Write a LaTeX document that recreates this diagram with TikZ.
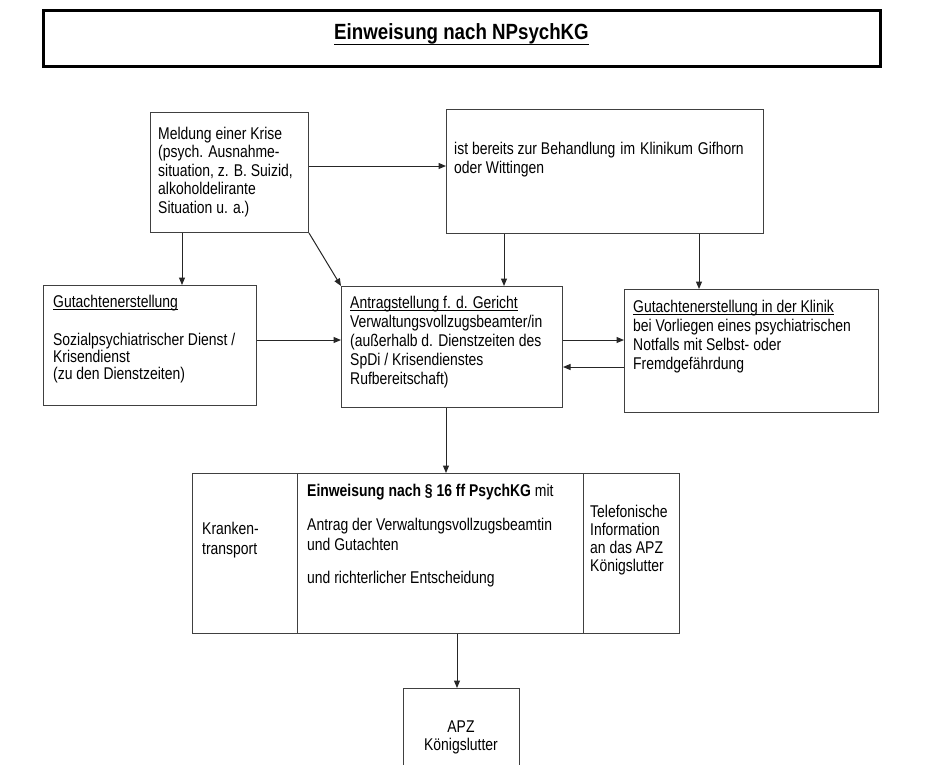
\documentclass[tikz,border=0pt]{standalone}
\usepackage{fontspec}
\setmainfont[FakeStretch=0.82]{Liberation Sans}
\newfontfamily\titlefont[FakeStretch=0.85]{Liberation Sans}
\usetikzlibrary{arrows.meta}
\newcommand\myul[1]{\setbox0\hbox{#1}\rlap{\vrule height -1.6pt depth 2.7pt width \wd0}\box0}
\newcommand\titleul[1]{\setbox0\hbox{#1}\rlap{\vrule height -4.5pt depth 6.2pt width \wd0}\box0}
\newcommand\wsp{\ \kern1.2pt}
\tikzset{
  box/.style={draw=black!75, line width=1pt, rectangle, inner sep=0pt, anchor=north west},
  txt/.style={inner sep=0pt, anchor=base west, font=\fontsize{17}{19}\selectfont},
  arr/.style={draw=black!85, line width=1pt, -{Triangle[length=7.5pt,width=6pt]}},
}
\begin{document}
\begin{tikzpicture}[x=1pt,y=-1pt]
\useasboundingbox (0,0) rectangle (947,764);
% title
\node[draw=black, line width=3pt, rectangle, inner sep=0pt, minimum width=837pt, minimum height=56pt] (title) at (461.5,38) {};
\node[inner sep=0pt, anchor=base, font=\titlefont\bfseries\fontsize{22}{22}\selectfont] (titleT) at (461.5,39) {\titleul{Einweisung nach NPsychKG}};
% boxes
\node[box, minimum width=158pt, minimum height=120pt] (meld) at (150,112) {};
\node[txt] (meldT) at (158,139) {\vtop{\baselineskip=18.5pt\hbox{Meldung einer Krise}\hbox{(psych. Ausnahme-}\hbox{situation, z. B. Suizid,}\hbox{alkoholdelirante}\hbox{Situation u. a.)}}};
\node[box, minimum width=317pt, minimum height=124pt] (klin) at (446,109) {};
\node[txt] (klinT) at (454,154) {\vtop{\baselineskip=19pt\hbox{ist bereits zur Behandlung\wsp im\wsp Klinikum\wsp Gifhorn}\hbox{oder Wittingen}}};
\node[box, minimum width=213pt, minimum height=120pt] (gut) at (43,285) {};
\node[txt] (gutT) at (53,307) {\vtop{\baselineskip=17.3pt\hbox{\myul{Gutachtenerstellung}}\vskip 20.7pt\hbox{Sozialpsychiatrischer Dienst /}\hbox{Krisendienst}\hbox{(zu den Dienstzeiten)}}};
\node[box, minimum width=221pt, minimum height=121pt] (antrag) at (341,286) {};
\node[txt] (antragT) at (350,308) {\vtop{\baselineskip=19pt\hbox{\myul{Antragstellung f. d. Gericht}}\hbox{Verwaltungsvollzugsbeamter/in}\hbox{(außerhalb d. Dienstzeiten des}\hbox{SpDi / Krisendienstes}\hbox{Rufbereitschaft)}}};
\node[box, minimum width=254pt, minimum height=123pt] (klinik) at (624,289) {};
\node[txt] (klinikT) at (633,312) {\vtop{\baselineskip=19pt\hbox{\myul{Gutachtenerstellung in der Klinik}}\hbox{bei Vorliegen eines psychiatrischen}\hbox{Notfalls mit Selbst- oder}\hbox{Fremdgefährdung}}};
% bottom
\node[box, minimum width=105pt, minimum height=160pt] (kt) at (192,473) {};
\node[box, minimum width=286pt, minimum height=160pt] (ew) at (297,473) {};
\node[box, minimum width=96pt, minimum height=160pt] (tel) at (583,473) {};
\node[txt] (ktT) at (202,534) {\vtop{\baselineskip=20pt\hbox{Kranken-}\hbox{transport}}};
\node[txt] (ewT) at (307,496) {\vtop{\baselineskip=19.5pt\hbox{\textbf{Einweisung nach § 16 ff PsychKG} mit}\vskip 15pt\hbox{Antrag der Verwaltungsvollzugsbeamtin}\hbox{und Gutachten}\vskip 14pt\hbox{und richterlicher Entscheidung}}};
\node[txt] (telT) at (590,517) {\vtop{\baselineskip=18pt\hbox{Telefonische}\hbox{Information}\hbox{an das APZ}\hbox{Königslutter}}};
\node[box, minimum width=116pt, minimum height=95pt] (apz) at (403,688) {};
\node[txt, anchor=base] (apzT) at (461,732) {\vtop{\baselineskip=18pt\hbox to 0pt{\hss APZ\hss}\hbox to 0pt{\hss Königslutter\hss}}};
% arrows
\draw[arr] (meld.east |- 0,166) -- (klin.west |- 0,166);
\draw[arr] (meld.south -| 182,0) -- (gut.north -| 182,0);
\draw[arr] (meld.south east) -- (antrag.north west);
\draw[arr] (klin.south -| 504,0) -- (antrag.north -| 504,0);
\draw[arr] (klin.south -| 699,0) -- (klinik.north -| 699,0);
\draw[arr] (gut.east |- 0,340) -- (antrag.west |- 0,340);
\draw[arr] (antrag.east |- 0,340) -- (klinik.west |- 0,340);
\draw[arr] (klinik.west |- 0,367) -- (antrag.east |- 0,367);
\draw[arr] (antrag.south -| 446,0) -- (ew.north -| 446,0);
\draw[arr] (ew.south -| 457,0) -- (apz.north -| 457,0);
\end{tikzpicture}
\end{document}
